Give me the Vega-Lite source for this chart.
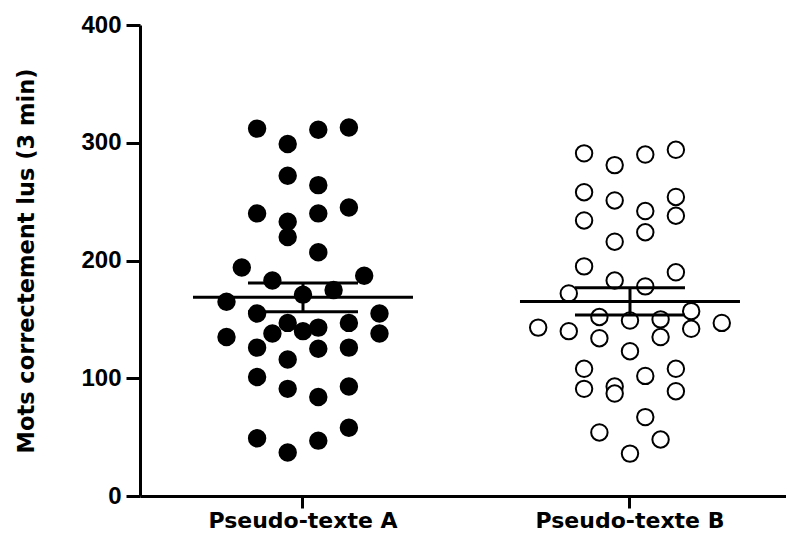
{
  "$schema": "https://vega.github.io/schema/vega-lite/v6.json",
  "width": 646,
  "height": 471,
  "autosize": {"type": "none"},
  "padding": {"left": 140, "top": 25, "right": 0, "bottom": 44},
  "background": "white",
  "config": {
    "view": {"stroke": null},
    "axis": {
      "domainColor": "black",
      "tickColor": "black",
      "labelColor": "black",
      "titleColor": "black",
      "domainWidth": 3,
      "tickWidth": 3,
      "grid": false
    }
  },
  "data": {
    "values": [
      {"groupe": "Pseudo-texte A", "slot": -3, "mots": 312},
      {"groupe": "Pseudo-texte A", "slot": -1, "mots": 299},
      {"groupe": "Pseudo-texte A", "slot": 1, "mots": 311},
      {"groupe": "Pseudo-texte A", "slot": 3, "mots": 313},
      {"groupe": "Pseudo-texte A", "slot": -1, "mots": 272},
      {"groupe": "Pseudo-texte A", "slot": 1, "mots": 264},
      {"groupe": "Pseudo-texte A", "slot": -3, "mots": 240},
      {"groupe": "Pseudo-texte A", "slot": -1, "mots": 233},
      {"groupe": "Pseudo-texte A", "slot": 1, "mots": 240},
      {"groupe": "Pseudo-texte A", "slot": 3, "mots": 245},
      {"groupe": "Pseudo-texte A", "slot": -1, "mots": 220},
      {"groupe": "Pseudo-texte A", "slot": 1, "mots": 207},
      {"groupe": "Pseudo-texte A", "slot": -4, "mots": 194},
      {"groupe": "Pseudo-texte A", "slot": -2, "mots": 183},
      {"groupe": "Pseudo-texte A", "slot": 4, "mots": 187},
      {"groupe": "Pseudo-texte A", "slot": 0, "mots": 171},
      {"groupe": "Pseudo-texte A", "slot": 2, "mots": 175},
      {"groupe": "Pseudo-texte A", "slot": -5, "mots": 165},
      {"groupe": "Pseudo-texte A", "slot": -3, "mots": 155},
      {"groupe": "Pseudo-texte A", "slot": 5, "mots": 155},
      {"groupe": "Pseudo-texte A", "slot": 5, "mots": 138},
      {"groupe": "Pseudo-texte A", "slot": -5, "mots": 135},
      {"groupe": "Pseudo-texte A", "slot": -2, "mots": 138},
      {"groupe": "Pseudo-texte A", "slot": -1, "mots": 147},
      {"groupe": "Pseudo-texte A", "slot": 0, "mots": 140},
      {"groupe": "Pseudo-texte A", "slot": 1, "mots": 143},
      {"groupe": "Pseudo-texte A", "slot": 3, "mots": 147},
      {"groupe": "Pseudo-texte A", "slot": -3, "mots": 126},
      {"groupe": "Pseudo-texte A", "slot": 1, "mots": 125},
      {"groupe": "Pseudo-texte A", "slot": 3, "mots": 126},
      {"groupe": "Pseudo-texte A", "slot": -1, "mots": 116},
      {"groupe": "Pseudo-texte A", "slot": -3, "mots": 101},
      {"groupe": "Pseudo-texte A", "slot": -1, "mots": 91},
      {"groupe": "Pseudo-texte A", "slot": 1, "mots": 84},
      {"groupe": "Pseudo-texte A", "slot": 3, "mots": 93},
      {"groupe": "Pseudo-texte A", "slot": -3, "mots": 49},
      {"groupe": "Pseudo-texte A", "slot": -1, "mots": 37},
      {"groupe": "Pseudo-texte A", "slot": 1, "mots": 47},
      {"groupe": "Pseudo-texte A", "slot": 3, "mots": 58},
      {"groupe": "Pseudo-texte B", "slot": -3, "mots": 291},
      {"groupe": "Pseudo-texte B", "slot": -1, "mots": 281},
      {"groupe": "Pseudo-texte B", "slot": 1, "mots": 290},
      {"groupe": "Pseudo-texte B", "slot": 3, "mots": 294},
      {"groupe": "Pseudo-texte B", "slot": -3, "mots": 258},
      {"groupe": "Pseudo-texte B", "slot": -1, "mots": 251},
      {"groupe": "Pseudo-texte B", "slot": 1, "mots": 242},
      {"groupe": "Pseudo-texte B", "slot": 3, "mots": 254},
      {"groupe": "Pseudo-texte B", "slot": 3, "mots": 238},
      {"groupe": "Pseudo-texte B", "slot": -3, "mots": 234},
      {"groupe": "Pseudo-texte B", "slot": 1, "mots": 224},
      {"groupe": "Pseudo-texte B", "slot": -1, "mots": 216},
      {"groupe": "Pseudo-texte B", "slot": -3, "mots": 195},
      {"groupe": "Pseudo-texte B", "slot": -1, "mots": 183},
      {"groupe": "Pseudo-texte B", "slot": 1, "mots": 178},
      {"groupe": "Pseudo-texte B", "slot": 3, "mots": 190},
      {"groupe": "Pseudo-texte B", "slot": -4, "mots": 172},
      {"groupe": "Pseudo-texte B", "slot": 4, "mots": 157},
      {"groupe": "Pseudo-texte B", "slot": -6, "mots": 143},
      {"groupe": "Pseudo-texte B", "slot": -4, "mots": 140},
      {"groupe": "Pseudo-texte B", "slot": -2, "mots": 152},
      {"groupe": "Pseudo-texte B", "slot": 0, "mots": 149},
      {"groupe": "Pseudo-texte B", "slot": 2, "mots": 150},
      {"groupe": "Pseudo-texte B", "slot": 4, "mots": 142},
      {"groupe": "Pseudo-texte B", "slot": 6, "mots": 147},
      {"groupe": "Pseudo-texte B", "slot": -2, "mots": 134},
      {"groupe": "Pseudo-texte B", "slot": 2, "mots": 135},
      {"groupe": "Pseudo-texte B", "slot": 0, "mots": 123},
      {"groupe": "Pseudo-texte B", "slot": -3, "mots": 108},
      {"groupe": "Pseudo-texte B", "slot": 3, "mots": 108},
      {"groupe": "Pseudo-texte B", "slot": 1, "mots": 102},
      {"groupe": "Pseudo-texte B", "slot": -3, "mots": 91},
      {"groupe": "Pseudo-texte B", "slot": -1, "mots": 93},
      {"groupe": "Pseudo-texte B", "slot": -1, "mots": 87},
      {"groupe": "Pseudo-texte B", "slot": 3, "mots": 89},
      {"groupe": "Pseudo-texte B", "slot": 1, "mots": 67},
      {"groupe": "Pseudo-texte B", "slot": -2, "mots": 54},
      {"groupe": "Pseudo-texte B", "slot": 2, "mots": 48},
      {"groupe": "Pseudo-texte B", "slot": 0, "mots": 36}
    ]
  },
  "encoding": {
    "x": {
      "field": "groupe",
      "type": "nominal",
      "scale": {"paddingInner": 0.2514, "paddingOuter": 0.1135, "align": 0.547},
      "axis": {
        "title": null,
        "labelAngle": 0,
        "labelFont": "DejaVu Sans",
        "labelFontSize": 22,
        "labelFontWeight": "bold",
        "labelPadding": 2,
        "labelLimit": 400,
        "tickSize": 12
      }
    }
  },
  "layer": [
    {
      "mark": {"type": "circle", "size": 270, "stroke": "black", "strokeWidth": 2, "opacity": 1, "fillOpacity": 1},
      "encoding": {
        "xOffset": {
          "field": "slot",
          "type": "ordinal",
          "scale": {"domain": [-8, -7, -6, -5, -4, -3, -2, -1, 0, 1, 2, 3, 4, 5, 6, 7, 8], "paddingInner": 0, "paddingOuter": 0}
        },
        "y": {
          "field": "mots",
          "type": "quantitative",
          "title": "Mots correctement lus (3 min)",
          "scale": {"domain": [0, 400], "nice": false},
          "axis": {
            "values": [0, 100, 200, 300, 400],
            "tickSize": 14,
            "labelFont": "Liberation Sans",
            "labelFontSize": 24,
            "labelFontWeight": "bold",
            "labelPadding": 5,
            "titleFont": "DejaVu Sans",
            "titleFontSize": 22.5,
            "titleFontWeight": "bold",
            "titlePadding": 42
          }
        },
        "fill": {
          "field": "groupe",
          "type": "nominal",
          "scale": {"domain": ["Pseudo-texte A", "Pseudo-texte B"], "range": ["black", "white"]},
          "legend": null
        }
      }
    },
    {
      "mark": {"type": "tick", "size": 220, "thickness": 3, "color": "black", "opacity": 1},
      "encoding": {
        "y": {"aggregate": "mean", "field": "mots", "type": "quantitative", "title": "Mots correctement lus (3 min)"}
      }
    },
    {
      "mark": {
        "type": "errorbar",
        "extent": "stderr",
        "color": "black",
        "rule": {"strokeWidth": 3, "color": "black"},
        "ticks": {"size": 110, "thickness": 3, "color": "black", "opacity": 1}
      },
      "encoding": {
        "y": {"field": "mots", "type": "quantitative", "title": "Mots correctement lus (3 min)"}
      }
    }
  ]
}
